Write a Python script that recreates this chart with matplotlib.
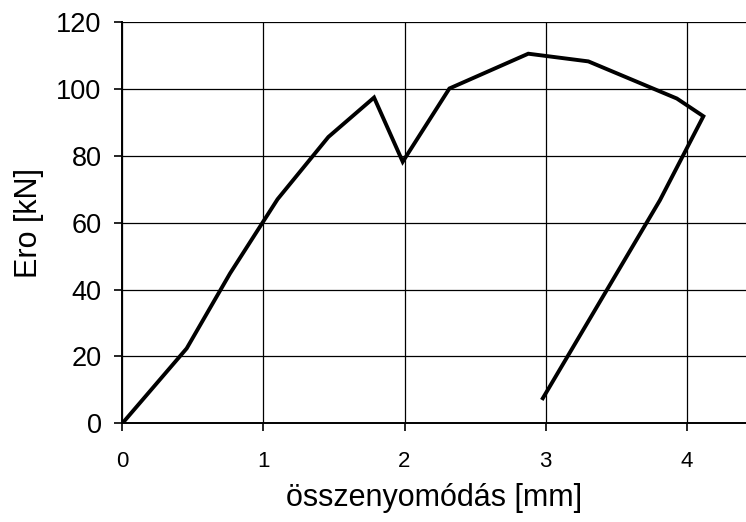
import matplotlib
matplotlib.use("Agg")
import matplotlib.pyplot as plt

# data
displacement_mm = [0, 0.456, 0.763, 1.10, 1.46, 1.784, 1.987, 2.318, 2.877, 3.303, 3.93, 4.118, 3.81, 2.98]
force_kN = [0, 22.4, 44.8, 67.0, 85.6, 97.4, 78.2, 100.1, 110.5, 108.2, 97.1, 91.8, 66.7, 7.5]
x_ticks = [0, 1, 2, 3, 4]
y_ticks = [0, 20, 40, 60, 80, 100, 120]

plt.rcParams['font.family'] = ['Liberation Sans', 'DejaVu Sans']

fig = plt.figure(figsize=(7.46, 5.22), dpi=100)
ax = fig.add_axes([0.164, 0.189, 0.836, 0.769])

ax.plot(displacement_mm, force_kN, color='black', linewidth=2.8, solid_joinstyle='miter', zorder=3)

ax.set_xlim(0, 4.42)
ax.set_ylim(0, 120)
ax.set_xticks(x_ticks)
ax.set_yticks(y_ticks)
ax.grid(True, color='black', linewidth=0.9)
ax.set_axisbelow(True)

for side in ['top', 'right']:
    ax.spines[side].set_visible(False)
for side in ['left', 'bottom']:
    ax.spines[side].set_linewidth(1.4)
    ax.spines[side].set_color('black')

ax.tick_params(axis='both', direction='out', length=6, width=1.2, colors='black')
ax.tick_params(axis='x', labelsize=16, pad=14)
ax.tick_params(axis='y', labelsize=19.5, pad=9)

ax.set_xlabel('összenyomódás [mm]', fontsize=22, labelpad=8)
ax.set_ylabel('Ero [kN]', fontsize=22, labelpad=9)

fig.savefig('out.png', dpi=100)
